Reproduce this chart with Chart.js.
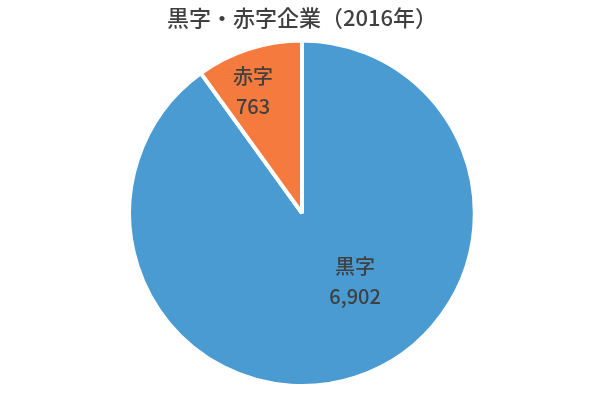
<!DOCTYPE html>
<html>
<head>
<meta charset="utf-8">
<script src="https://cdn.jsdelivr.net/npm/chart.js@4"></script>
<style>
  html, body { margin: 0; padding: 0; background: #fff; }
  #wrap { width: 600px; height: 400px; }
</style>
</head>
<body>
<div id="wrap"><canvas id="pie" width="600" height="400"></canvas></div>
<script>
const LABELS = ['黒字', '赤字'];
const VALUES = [6902, 763];
const COLORS = ['#4a9bd2', '#f47a3d'];
const TITLE = '黒字・赤字企業（2016年）';

const FONT = '"Noto Sans CJK JP", "Noto Sans", sans-serif';

// label placement per slice: fraction of radius, angle shift (deg)
const LABEL_POS = [
    { r: 0.5, da: -20 },
    { r: 0.76, da: -4 }
];

// ===== SLICE LABELS =====
const sliceLabels = {
    id: 'sliceLabels',
    afterDatasetsDraw(chart) {
        const ctx = chart.ctx;
        const meta = chart.getDatasetMeta(0);
        ctx.save();
        ctx.fillStyle = '#404040';
        ctx.font = '500 20px ' + FONT;
        ctx.textAlign = 'center';
        ctx.textBaseline = 'middle';
        meta.data.forEach((arc, i) => {
            const p = arc.getProps(['x', 'y', 'startAngle', 'endAngle', 'outerRadius'], true);
            const mid = (p.startAngle + p.endAngle) / 2 + LABEL_POS[i].da * Math.PI / 180;
            const rr = p.outerRadius * LABEL_POS[i].r;
            const cx = p.x + Math.cos(mid) * rr;
            const cy = p.y + Math.sin(mid) * rr;
            ctx.fillText(LABELS[i], cx, cy - 15);
            ctx.fillText(VALUES[i].toLocaleString('en-US'), cx, cy + 15);
        });
        ctx.restore();
    }
};

new Chart(document.getElementById('pie'), {
    type: 'pie',
    data: {
        labels: LABELS,
        datasets: [{
            data: VALUES,
            backgroundColor: COLORS,
            borderColor: '#ffffff',
            borderWidth: 4
        }]
    },
    options: {
        responsive: false,
        animation: false,
        layout: { padding: { left: 4, right: 0, top: 0, bottom: 12 } },
        plugins: {
            legend: { display: false },
            tooltip: { enabled: false },
            title: {
                display: true,
                text: TITLE,
                color: '#404040',
                font: { family: FONT, size: 22, weight: '500' },
                padding: { top: 4, bottom: 8 }
            }
        }
    },
    plugins: [sliceLabels]
});
</script>
</body>
</html>
